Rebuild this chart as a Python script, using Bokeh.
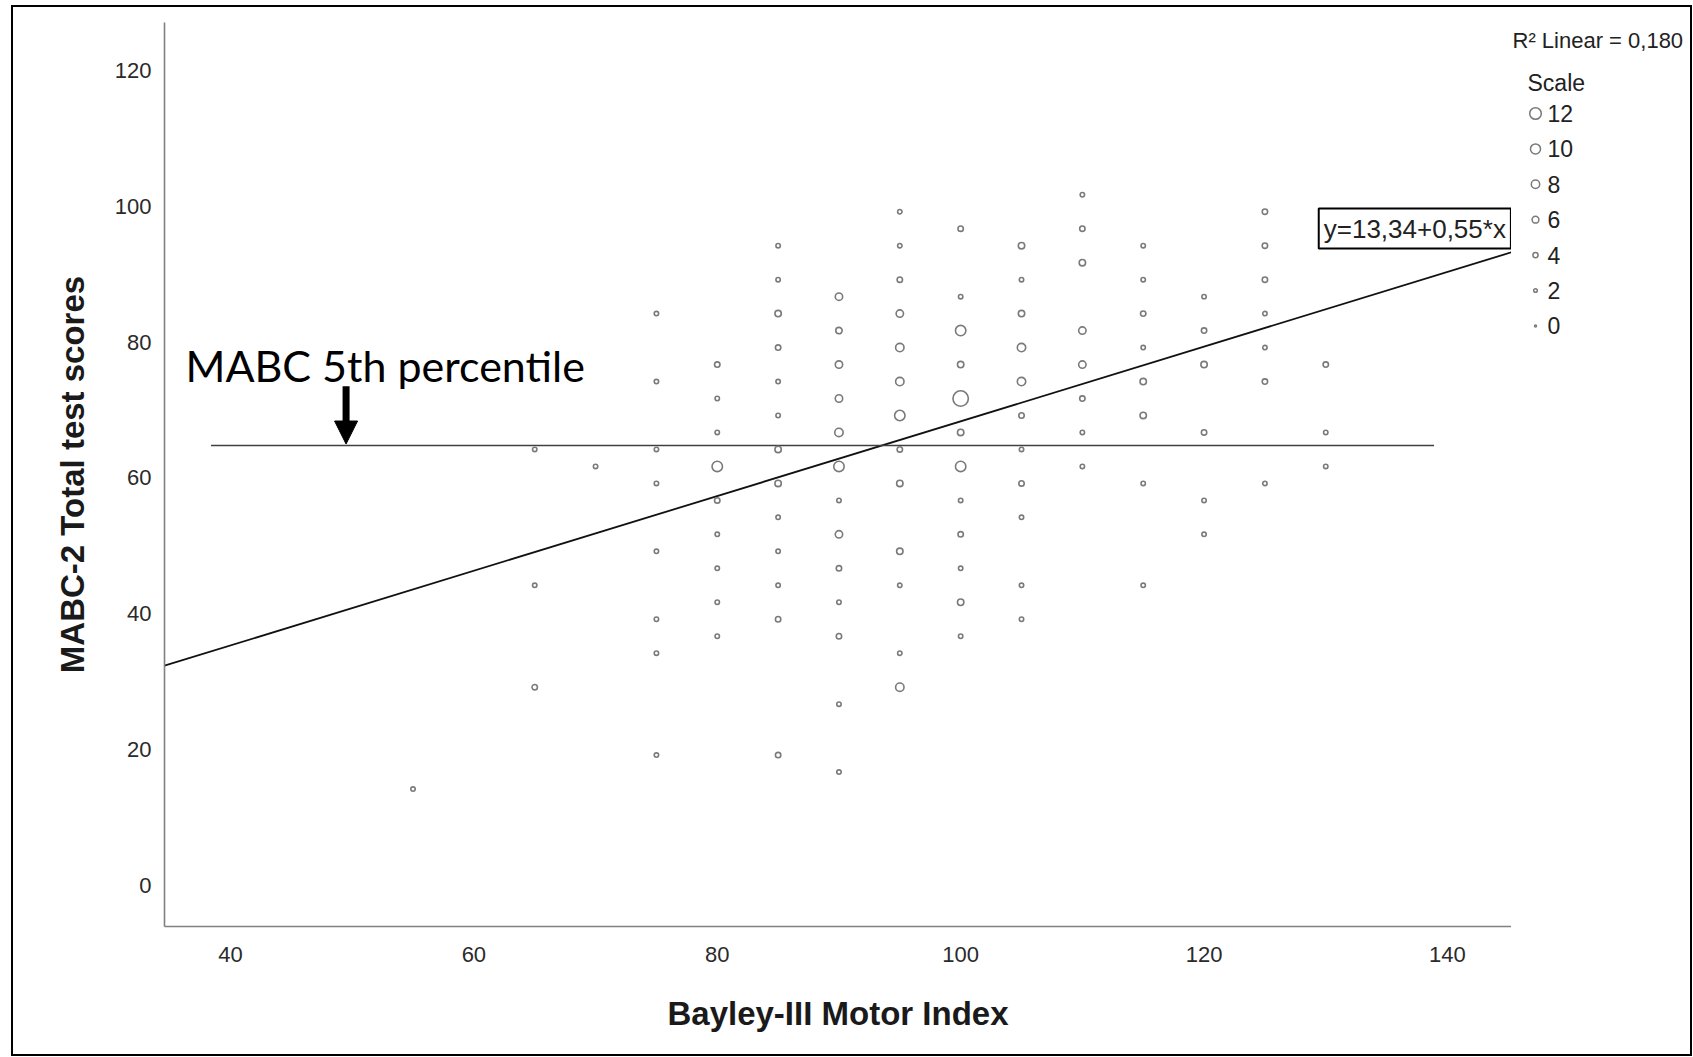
from bokeh.plotting import figure
from bokeh.layouts import row
from bokeh.models import Label, Arrow, NormalHead, FixedTicker, Range1d
from bokeh.embed import file_html
from bokeh.resources import INLINE

# ---------------- data ----------------
bayley_motor = [
    55,
    65, 65, 65,
    70,
    75, 75, 75, 75, 75, 75, 75, 75,
    80, 80, 80, 80, 80, 80, 80, 80, 80,
    85, 85, 85, 85, 85, 85, 85, 85, 85, 85, 85, 85, 85,
    90, 90, 90, 90, 90, 90, 90, 90, 90, 90, 90, 90, 90,
    95, 95, 95, 95, 95, 95, 95, 95, 95, 95, 95, 95, 95,
    100, 100, 100, 100, 100, 100, 100, 100, 100, 100, 100, 100,
    105, 105, 105, 105, 105, 105, 105, 105, 105, 105, 105,
    110, 110, 110, 110, 110, 110, 110, 110,
    115, 115, 115, 115, 115, 115, 115, 115,
    120, 120, 120, 120, 120, 120,
    125, 125, 125, 125, 125, 125, 125,
    130, 130, 130,
]
mabc_total = [
    14.2,
    64.2, 44.2, 29.2,
    61.7,
    84.2, 74.2, 64.2, 59.2, 49.2, 39.2, 34.2, 19.2,
    76.7, 71.7, 66.7, 61.7, 56.7, 51.7, 46.7, 41.7, 36.7,
    94.2, 89.2, 84.2, 79.2, 74.2, 69.2, 64.2, 59.2, 54.2, 49.2, 44.2, 39.2, 19.2,
    86.7, 81.7, 76.7, 71.7, 66.7, 61.7, 56.7, 51.7, 46.7, 41.7, 36.7, 26.7, 16.7,
    99.2, 94.2, 89.2, 84.2, 79.2, 74.2, 69.2, 64.2, 59.2, 49.2, 44.2, 34.2, 29.2,
    96.7, 86.7, 81.7, 76.7, 71.7, 66.7, 61.7, 56.7, 51.7, 46.7, 41.7, 36.7,
    94.2, 89.2, 84.2, 79.2, 74.2, 69.2, 64.2, 59.2, 54.2, 44.2, 39.2,
    101.7, 96.7, 91.7, 81.7, 76.7, 71.7, 66.7, 61.7,
    94.2, 89.2, 84.2, 79.2, 74.2, 69.2, 59.2, 44.2,
    86.7, 81.7, 76.7, 66.7, 56.7, 51.7,
    99.2, 94.2, 89.2, 84.2, 79.2, 74.2, 59.2,
    76.7, 66.7, 61.7,
]
n_children = [
    1,
    1, 1, 2,
    1,
    1, 1, 1, 1, 1, 1, 1, 1,
    2, 1, 1, 7, 2, 1, 1, 1, 1,
    1, 1, 3, 2, 1, 1, 3, 3, 1, 1, 1, 2, 2,
    4, 3, 4, 4, 5, 7, 1, 4, 2, 1, 2, 1, 1,
    1, 1, 2, 4, 5, 5, 7, 2, 3, 3, 1, 1, 5,
    2, 1, 7, 3, 12, 3, 7, 1, 2, 1, 3, 1,
    3, 1, 3, 5, 5, 2, 1, 2, 1, 1, 1,
    1, 2, 3, 4, 4, 2, 1, 1,
    1, 1, 2, 1, 3, 3, 1, 1,
    1, 2, 3, 2, 1, 1,
    2, 2, 2, 1, 1, 2, 1,
    2, 1, 1,
]
x_ticks = [40, 60, 80, 100, 120, 140]
y_ticks = [0, 20, 40, 60, 80, 100, 120]
legend_scale = [12, 10, 8, 6, 4, 2, 0]
fit_intercept = 13.34
fit_slope = 0.55
r_squared = "0,180"
pct5_value = 64.8
pct5_extent = (38.4, 138.9)
arrow_x = 49.5
arrow_top = 73.5

# ---------------- layout (page pixels) ----------------
W, H = 1693, 1057
OX, OY = 13, 7                  # inner origin (inside outer black frame)
IX, IY = 1690, 1054             # inner far corner
FL, FR, FT, FB = 164, 1511, 22, 926   # main plotting frame edges
XPX, YPX = 12.17, 6.792               # pixels per unit
x_lo = 34.58
x_hi = x_lo + (FR - FL) / XPX
y0px = 885.0
y_lo = (y0px - FB) / YPX
y_hi = (y0px - FT) / YPX


def px2x(px):
    return x_lo + (px - FL) / XPX


def px2y(py):
    return (y0px - py) / YPX


p = figure(width=FR - OX, height=IY - OY, x_range=(x_lo, x_hi), y_range=(y_lo, y_hi),
           output_backend="svg", toolbar_location=None)
p.min_border = 0
p.min_border_left = FL - OX
p.min_border_bottom = IY - FB
p.min_border_right = 0
p.min_border_top = FT - OY
p.outline_line_color = None
p.grid.visible = False
p.background_fill_color = "white"
p.border_fill_color = "white"

for ax, ticks in ((p.xaxis, x_ticks), (p.yaxis, y_ticks)):
    ax.ticker = FixedTicker(ticks=ticks)
    ax.axis_line_color = "#808080"
    ax.axis_line_width = 1.6
    ax.major_tick_line_color = None
    ax.minor_tick_line_color = None
    ax.major_label_text_font = "Liberation Sans"
    ax.major_label_text_font_size = "22px"
    ax.major_label_text_color = "#2a2a2a"
    ax.axis_label_text_font = "Liberation Sans"
    ax.axis_label_text_font_size = "33px"
    ax.axis_label_text_font_style = "bold"
    ax.axis_label_text_color = "#1a1a1a"

p.xaxis.axis_label = "Bayley-III Motor Index"
p.yaxis.axis_label = "MABC-2 Total test scores"
p.xaxis.major_label_standoff = 14
p.yaxis.major_label_standoff = 7
p.xaxis.axis_label_standoff = 30
p.yaxis.axis_label_standoff = 21

# regression line
fx = [x_lo, x_hi]
p.line(fx, [fit_intercept + fit_slope * v for v in fx], line_color="#111111", line_width=1.8)

# 5th percentile reference line
p.line(list(pct5_extent), [pct5_value, pct5_value], line_color="#404040", line_width=1.5)

# points (size by count)
p.scatter(bayley_motor, mabc_total, size=[3.4 + 1.0 * n for n in n_children],
          marker="circle", fill_color=None, line_color="#7a7a7a", line_width=1.6)

# arrow + annotation text
p.add_layout(Arrow(end=NormalHead(size=23, fill_color="black", line_color="black"),
                   x_start=arrow_x, y_start=arrow_top, x_end=arrow_x, y_end=pct5_value + 0.2,
                   line_width=7, line_color="black"))
p.add_layout(Label(x=px2x(185), y=px2y(365), text="MABC 5th percentile", text_font="Lato",
                   text_font_size="43px", text_color="black", text_baseline="alphabetic"))

# equation box
p.add_layout(Label(x=x_hi - 0.05, y=px2y(248), text="y=13,34+0,55*x", text_align="right",
                   text_baseline="bottom", text_font="Liberation Sans", text_font_size="26px",
                   text_color="#222222", border_line_color="black", border_line_width=2,
                   background_fill_color="white", padding=5))

# ---------------- legend panel (page pixel coordinates) ----------------
lg = figure(width=IX - FR, height=IY - OY, x_range=Range1d(FR, IX), y_range=Range1d(FB, FT),
            output_backend="svg", toolbar_location=None,
            x_axis_type=None, y_axis_type=None)
lg.min_border = 0
lg.min_border_top = FT - OY
lg.min_border_bottom = IY - FB
lg.outline_line_color = None
lg.grid.visible = False
lg.background_fill_color = "white"
lg.border_fill_color = "white"

lg.add_layout(Label(x=1512, y=40, text="R² Linear = " + r_squared,
                    text_font="Liberation Sans", text_font_size="22px", text_color="#222222",
                    text_baseline="alphabetic"))
lg.add_layout(Label(x=1527, y=82, text="Scale", text_font="Liberation Sans",
                    text_font_size="23px", text_color="#222222", text_baseline="alphabetic"))
leg_y = [113 + 35.4 * i for i in range(len(legend_scale))]
lg.scatter([1535] * len(legend_scale), leg_y, size=[2.0 + 0.8 * s for s in legend_scale],
           marker="circle", fill_color=None, line_color="#7a7a7a", line_width=1.5)
for s, yy in zip(legend_scale, leg_y):
    lg.add_layout(Label(x=1547, y=yy, text=str(s), text_font="Liberation Sans",
                        text_font_size="23px", text_color="#222222", text_baseline="middle"))

layout = row(p, lg, spacing=0,
             styles={"border": "2px solid black", "margin-left": f"{OX - 2}px",
                     "margin-top": f"{OY - 2}px"})

open("out.html", "w").write(file_html(layout, INLINE))
